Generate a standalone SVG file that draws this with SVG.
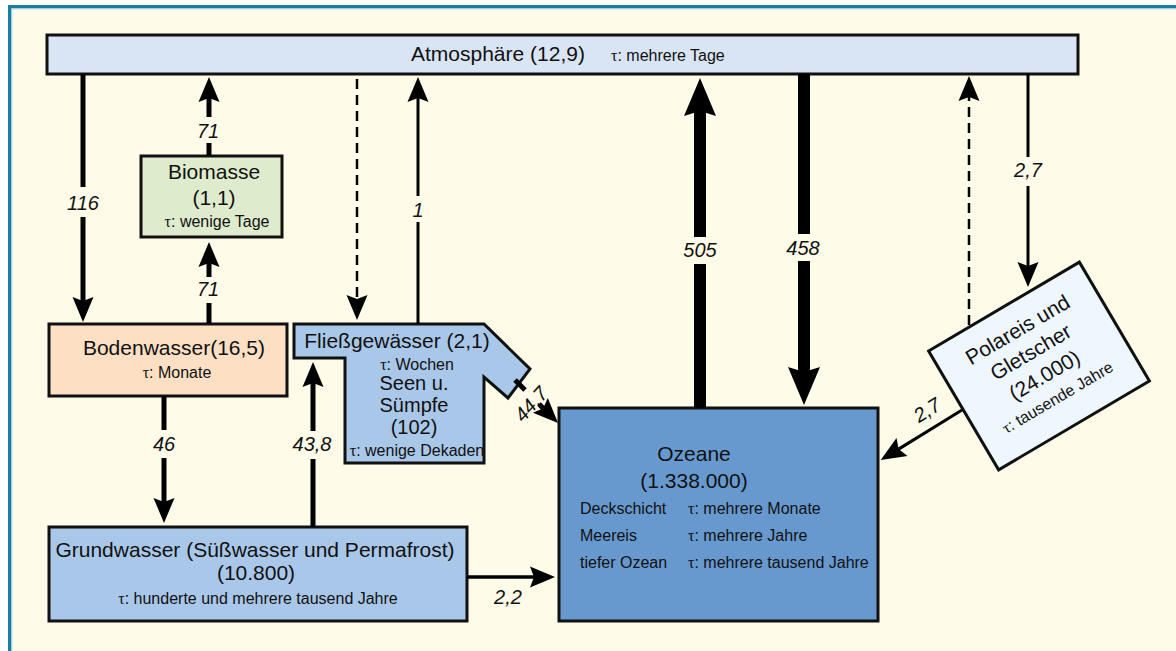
<svg xmlns="http://www.w3.org/2000/svg" width="1176" height="651" viewBox="0 0 1176 651">
<style>
text{font-family:"Liberation Sans",Arial,sans-serif;fill:#111}
.t{font-size:21px}
.t2{font-size:20px}
.s{font-size:16px}
.tau{font-family:"Liberation Serif","Times New Roman",serif}
.lbl{font-size:20px;font-style:italic;text-anchor:middle}
.box{stroke:#111;stroke-width:3}
.c{stroke:#000;fill:none}
.w5{stroke-width:5}
.w12{stroke-width:12}
.w3{stroke-width:3}
.dash{stroke-width:2.5;stroke-dasharray:10 6}
.m{text-anchor:middle}
</style>
<defs>
<marker id="ah" markerUnits="userSpaceOnUse" markerWidth="30" markerHeight="30" refX="0" refY="0" orient="auto" style="overflow:visible"><path d="M-4,-10.5 L21,0 L-4,10.5 L0,0 Z" fill="#000"/></marker>
<marker id="ahb" markerUnits="userSpaceOnUse" markerWidth="40" markerHeight="40" refX="0" refY="0" orient="auto" style="overflow:visible"><path d="M-5,-16 L33,0 L-5,16 L0,0 Z" fill="#000"/></marker>
</defs>
<g id="frame">
<rect x="0" y="0" width="1176" height="651" fill="#ffffff"/>
<rect x="8" y="5" width="1168" height="646" fill="#fffbe9"/>
<rect x="8" y="5" width="1168" height="3.5" fill="#1a7da6"/>
<rect x="8" y="5" width="3.5" height="646" fill="#1a7da6"/>
<rect x="11.5" y="8.5" width="1164.5" height="1" fill="#bfe4ee"/>
<rect x="11.5" y="8.5" width="1" height="642.5" fill="#bfe4ee"/>
</g>
<g id="atmosphaere">
<rect class="box" x="47" y="35" width="1031" height="39" fill="#d9e5f4"/>
<text class="t" x="411" y="61">Atmosphäre (12,9)</text>
<text class="s" x="611" y="61"><tspan class="tau">τ</tspan>: mehrere Tage</text>
</g>
<g id="biomasse">
<rect class="box" x="141" y="156" width="141" height="81" fill="#deebcd"/>
<text class="t m" x="214" y="179">Biomasse</text>
<text class="t m" x="214" y="205">(1,1)</text>
<text class="s m" x="217" y="227"><tspan class="tau">τ</tspan>: wenige Tage</text>
</g>
<g id="bodenwasser">
<rect class="box" x="49" y="324" width="238" height="72" fill="#fde0c4"/>
<text class="t m" x="174" y="355">Bodenwasser(16,5)</text>
<text class="s m" x="177" y="378"><tspan class="tau">τ</tspan>: Monate</text>
</g>
<g id="fliessgewaesser">
<path class="box" d="M294,324 L484,324 L530,369 L508,398 L484,377 L484,463 L345,463 L345,358 L294,358 Z" fill="#a9c7e8"/>
<text class="t m" x="397" y="348">Fließgewässer (2,1)</text>
<text class="s m" x="417" y="370"><tspan class="tau">τ</tspan>: Wochen</text>
<text class="t2 m" x="414" y="390">Seen u.</text>
<text class="t2 m" x="414" y="412">Sümpfe</text>
<text class="t2 m" x="414" y="434">(102)</text>
<text class="s m" x="417" y="456"><tspan class="tau">τ</tspan>: wenige Dekaden</text>
</g>
<g id="grundwasser">
<rect class="box" x="49" y="527" width="418" height="94" fill="#a9c7e8"/>
<text class="t m" x="255" y="557">Grundwasser (Süßwasser und Permafrost)</text>
<text class="t m" x="256" y="580">(10.800)</text>
<text class="s m" x="258" y="604"><tspan class="tau">τ</tspan>: hunderte und mehrere tausend Jahre</text>
</g>
<g id="ozeane">
<rect class="box" x="559" y="408" width="319" height="213" fill="#6799cf"/>
<text class="t m" x="694" y="461">Ozeane</text>
<text class="t m" x="694" y="488">(1.338.000)</text>
<text class="s" x="580" y="514">Deckschicht</text>
<text class="s" x="688" y="514"><tspan class="tau">τ</tspan>: mehrere Monate</text>
<text class="s" x="580" y="541">Meereis</text>
<text class="s" x="688" y="541"><tspan class="tau">τ</tspan>: mehrere Jahre</text>
<text class="s" x="580" y="568">tiefer Ozean</text>
<text class="s" x="688" y="568"><tspan class="tau">τ</tspan>: mehrere tausend Jahre</text>
</g>
<g id="polareis" transform="translate(1039,366) rotate(-30.5)">
<rect class="box" x="-87.5" y="-69" width="175" height="138" fill="#eef6fe"/>
<text class="t m" x="0" y="-35">Polareis und</text>
<text class="t m" x="0" y="-9">Gletscher</text>
<text class="t m" x="0" y="18">(24.000)</text>
<text class="s m" x="0" y="42"><tspan class="tau">τ</tspan>: tausende Jahre</text>
</g>
<g id="connectors">
<g id="c116">
<line class="c w5" x1="83" y1="74" x2="83" y2="187"/>
<line class="c w5" x1="83" y1="217" x2="83" y2="301" marker-end="url(#ah)"/>
<text class="lbl" x="83" y="210">116</text>
</g>
<g id="c71a">
<line class="c w5" x1="209" y1="156" x2="209" y2="143"/>
<line class="c w5" x1="209" y1="117" x2="209" y2="98" marker-end="url(#ah)"/>
<text class="lbl" x="208" y="138">71</text>
</g>
<g id="c71b">
<line class="c w5" x1="209" y1="324" x2="209" y2="303"/>
<line class="c w5" x1="209" y1="277" x2="209" y2="263" marker-end="url(#ah)"/>
<text class="lbl" x="208" y="296">71</text>
</g>
<g id="cdash1">
<line class="c dash" x1="357" y1="79" x2="357" y2="299" marker-end="url(#ah)"/>
</g>
<g id="c1">
<line class="c w3" x1="418" y1="324" x2="418" y2="222"/>
<line class="c w3" x1="418" y1="196" x2="418" y2="98" marker-end="url(#ah)"/>
<text class="lbl" x="418" y="217">1</text>
</g>
<g id="c505">
<line class="c w12" x1="700" y1="408" x2="700" y2="264"/>
<line class="c w12" x1="700" y1="237" x2="700" y2="111" marker-end="url(#ahb)"/>
<text class="lbl" x="700" y="257">505</text>
</g>
<g id="c458">
<line class="c w12" x1="804" y1="74" x2="804" y2="234"/>
<line class="c w12" x1="804" y1="261" x2="804" y2="372" marker-end="url(#ahb)"/>
<text class="lbl" x="803" y="255">458</text>
</g>
<g id="cdash2">
<line class="c dash" x1="969" y1="325" x2="969" y2="97" marker-end="url(#ah)"/>
</g>
<g id="c27a">
<line class="c w3" x1="1028" y1="74" x2="1028" y2="157"/>
<line class="c w3" x1="1028" y1="186" x2="1028" y2="266" marker-end="url(#ah)"/>
<text class="lbl" x="1028" y="177">2,7</text>
</g>
<g id="c46">
<line class="c w5" x1="164" y1="396" x2="164" y2="430"/>
<line class="c w5" x1="164" y1="458" x2="164" y2="502" marker-end="url(#ah)"/>
<text class="lbl" x="164" y="451">46</text>
</g>
<g id="c438">
<line class="c w5" x1="313" y1="527" x2="313" y2="459"/>
<line class="c w5" x1="313" y1="431" x2="313" y2="383" marker-end="url(#ah)"/>
<text class="lbl" x="312" y="451">43,8</text>
</g>
<g id="c447">
<line class="c w5" x1="515" y1="380" x2="525" y2="390"/>
<line class="c w5" x1="539" y1="404" x2="543.2" y2="408.2" marker-end="url(#ah)"/>
<text class="lbl" transform="translate(531,404) rotate(-48)" x="0" y="7">44,7</text>
</g>
<g id="c22">
<line class="c" stroke-width="3.5" x1="467" y1="577" x2="534" y2="577" marker-end="url(#ah)"/>
<text class="lbl" x="508" y="604">2,2</text>
</g>
<g id="c27b">
<line class="c w3" x1="962" y1="410" x2="898.6" y2="449.1" marker-end="url(#ah)"/>
<text class="lbl" transform="translate(927,410) rotate(-32)" x="0" y="7">2,7</text>
</g>
</g>
</svg>
